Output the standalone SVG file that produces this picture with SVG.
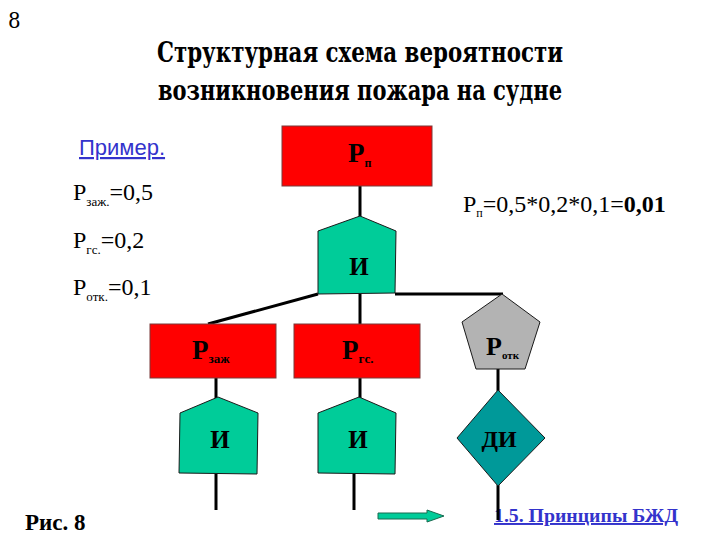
<svg xmlns="http://www.w3.org/2000/svg" width="720" height="540" viewBox="0 0 720 540">
<style>
.ser{font-family:"Liberation Serif","Times New Roman",serif;fill:#000}
.b{font-weight:bold}
.red{fill:#ff0000;stroke:#7a3a3a;stroke-width:1}
.and{fill:#00cc99;stroke:#1a1a1a;stroke-width:1}
.ln{stroke:#000;stroke-width:3;fill:none}
.lbl{font-family:"Liberation Serif","Times New Roman",serif;font-weight:bold;fill:#000}
</style>
<rect width="720" height="540" fill="#fff"/>
<text x="8" y="28" font-family="DejaVu Serif,Liberation Serif,serif" font-stretch="condensed" font-size="22">8</text>
<g font-family="DejaVu Serif,Liberation Serif,serif" font-stretch="condensed" font-weight="bold" font-size="27" text-anchor="middle">
<text x="360" y="62" textLength="406" lengthAdjust="spacingAndGlyphs">Структурная схема вероятности</text>
<text x="360" y="100" textLength="404" lengthAdjust="spacingAndGlyphs">возникновения пожара на судне</text>
</g>
<text x="79" y="155" font-family="Liberation Sans,Arial,sans-serif" font-size="22" fill="#3333cc" text-decoration="underline">Пример.</text>
<text class="ser" x="73" y="200" font-size="24">P<tspan font-size="13" dy="6">заж.</tspan><tspan dy="-6">=0,5</tspan></text>
<text class="ser" x="73" y="248" font-size="24">P<tspan font-size="13" dy="6">гс.</tspan><tspan dy="-6">=0,2</tspan></text>
<text class="ser" x="73" y="295" font-size="24">P<tspan font-size="13" dy="6">отк.</tspan><tspan dy="-6">=0,1</tspan></text>
<text class="ser" x="463" y="212" font-size="24">P<tspan font-size="12" dy="5">п</tspan><tspan dy="-5">=0,5*0,2*0,1=</tspan><tspan font-weight="bold">0,01</tspan></text>
<text class="ser b" x="25" y="530" font-size="23">Рис. 8</text>
<text class="ser b" x="494" y="522" font-size="19.5" textLength="184" lengthAdjust="spacingAndGlyphs" style="fill:#3333cc" text-decoration="underline">1.5. Принципы БЖД</text>
<polygon points="378,513 427,513 427,510 444,516 427,522 427,519 378,519" fill="#00cc99" stroke="#1a6a50" stroke-width="1"/>
<g id="connectors">
<line class="ln" x1="360" y1="186" x2="360" y2="217"/>
<line class="ln" x1="318" y1="294" x2="208" y2="324"/>
<line class="ln" x1="360" y1="294" x2="360" y2="324"/>
<line class="ln" x1="395" y1="294" x2="503" y2="294"/>
<line class="ln" x1="216" y1="378" x2="216" y2="398"/>
<line class="ln" x1="360" y1="378" x2="360" y2="398"/>
<line class="ln" x1="216" y1="473" x2="216" y2="510"/>
<line class="ln" x1="354" y1="473" x2="354" y2="510"/>
<line class="ln" x1="498" y1="369" x2="498" y2="391"/>
<line class="ln" x1="498" y1="485" x2="498" y2="520"/>
</g>
<g id="Pp">
<rect class="red" x="282" y="126" width="150" height="60"/>
<text class="lbl" x="348" y="162" font-size="27">P<tspan font-size="12" dy="5">п</tspan></text>
</g>
<g id="and_top">
<polygon class="and" points="360,216 396,231 395,293 318,294 318,231"/>
<text class="lbl" x="359" y="275" font-size="25" text-anchor="middle">И</text>
</g>
<g id="Pzaj">
<rect class="red" x="150" y="324" width="126" height="54"/>
<text class="lbl" x="192" y="359" font-size="27">P<tspan font-size="13" dy="4">заж</tspan></text>
</g>
<g id="Pgs">
<rect class="red" x="294" y="324" width="126" height="54"/>
<text class="lbl" x="342" y="359" font-size="27">P<tspan font-size="13" dy="4">гс.</tspan></text>
</g>
<g id="and_left">
<polygon class="and" points="218,397 258,413 257,474 179,473 180,413"/>
<text class="lbl" x="220" y="448" font-size="25" text-anchor="middle">И</text>
</g>
<g id="and_right">
<polygon class="and" points="359,397 396,413 395,474 318,473 318,413"/>
<text class="lbl" x="358" y="448" font-size="25" text-anchor="middle">И</text>
</g>
<g id="Potk">
<polygon points="502,294 540,322 525,369 476,369 462,322" fill="#b3b3b3" stroke="#1a1a1a" stroke-width="1"/>
<text class="lbl" x="486" y="355" font-size="26">P<tspan font-size="11" dy="4">отк</tspan></text>
</g>
<g id="DI">
<polygon points="498,390 545,438 498,486 457,438" fill="#009999" stroke="#1a1a1a" stroke-width="1"/>
<text class="lbl" x="499" y="447" font-size="24" text-anchor="middle">ДИ</text>
</g>
</svg>
